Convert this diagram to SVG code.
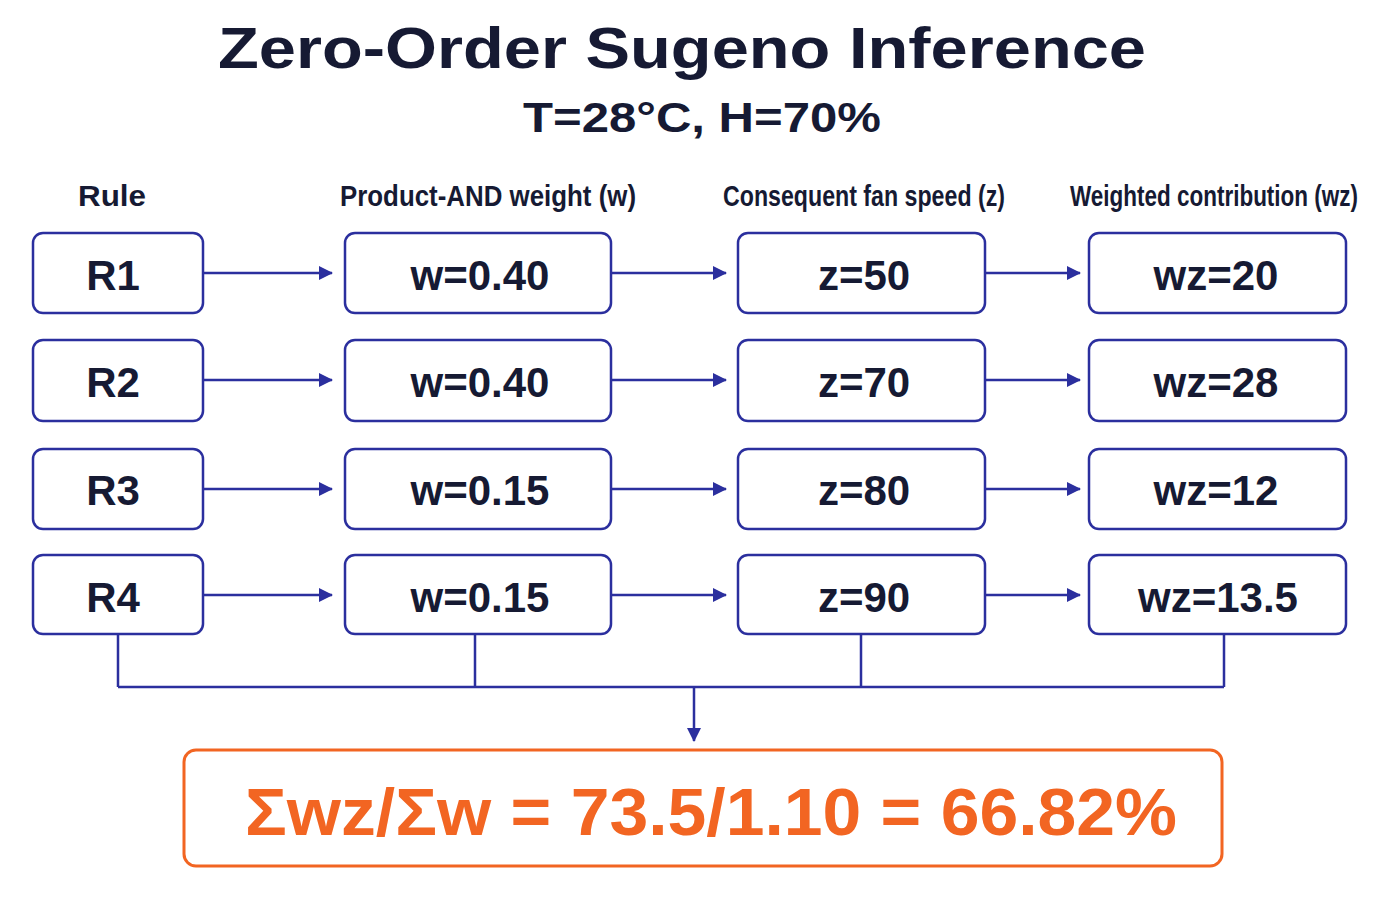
<svg xmlns="http://www.w3.org/2000/svg" width="1400" height="900" viewBox="0 0 1400 900">
<style>
.t{font-family:"Liberation Sans",Arial,sans-serif;fill:#161a33;text-anchor:middle}
.h{font-family:"Liberation Sans Narrow","Liberation Sans",Arial,sans-serif;fill:#161a33;text-anchor:middle;font-size:29px;font-weight:bold}
.box{fill:#fff;stroke:#2b2f9e;stroke-width:2.5}
.bt{font-family:"Liberation Sans",Arial,sans-serif;fill:#161a33;text-anchor:middle;font-size:42px;font-weight:bold}
.c{stroke:#2b2f9e;stroke-width:2.5;fill:none}
.ar{stroke:#2b2f9e;stroke-width:2.5;fill:none;marker-end:url(#b)}
</style>
<defs>
<marker id="b" markerWidth="14" markerHeight="14" refX="13" refY="7" orient="auto" markerUnits="userSpaceOnUse"><path d="M0,0 L14,7 L0,14 z" fill="#2b2f9e"/></marker></defs>
<rect width="1400" height="900" fill="#fff"/>
<text class="t" x="682" y="68" font-size="58" font-weight="bold" textLength="928" lengthAdjust="spacingAndGlyphs">Zero-Order Sugeno Inference</text>
<text class="t" x="702" y="132" font-size="42" font-weight="bold" textLength="358" lengthAdjust="spacingAndGlyphs">T=28°C, H=70%</text>
<text class="h" x="112" y="206" textLength="68" lengthAdjust="spacingAndGlyphs">Rule</text>
<text class="h" x="488" y="206" textLength="296" lengthAdjust="spacingAndGlyphs">Product-AND weight (w)</text>
<text class="h" x="864" y="206" textLength="282" lengthAdjust="spacingAndGlyphs">Consequent fan speed (z)</text>
<text class="h" x="1214" y="206" textLength="288" lengthAdjust="spacingAndGlyphs">Weighted contribution (wz)</text>
<g id="connectors">
<line class="ar" x1="204" y1="273" x2="332" y2="273"/><line class="ar" x1="612" y1="273" x2="726" y2="273"/><line class="ar" x1="986" y1="273" x2="1080" y2="273"/>
<line class="ar" x1="204" y1="380" x2="332" y2="380"/><line class="ar" x1="612" y1="380" x2="726" y2="380"/><line class="ar" x1="986" y1="380" x2="1080" y2="380"/>
<line class="ar" x1="204" y1="489" x2="332" y2="489"/><line class="ar" x1="612" y1="489" x2="726" y2="489"/><line class="ar" x1="986" y1="489" x2="1080" y2="489"/>
<line class="ar" x1="204" y1="595" x2="332" y2="595"/><line class="ar" x1="612" y1="595" x2="726" y2="595"/><line class="ar" x1="986" y1="595" x2="1080" y2="595"/>
<path class="c" d="M118,635 V687 M475,635 V687 M861,635 V687 M1224,635 V687 M118,687 H1224"/>
<line class="ar" x1="694" y1="687" x2="694" y2="741"/>
</g>
<g id="R1"><rect class="box" x="33" y="233" width="170" height="80" rx="10"/><text class="bt" x="113" y="290">R1</text></g>
<g id="R2"><rect class="box" x="33" y="340" width="170" height="81" rx="10"/><text class="bt" x="113" y="397">R2</text></g>
<g id="R3"><rect class="box" x="33" y="449" width="170" height="80" rx="10"/><text class="bt" x="113" y="505">R3</text></g>
<g id="R4"><rect class="box" x="33" y="555" width="170" height="79" rx="10"/><text class="bt" x="113" y="612">R4</text></g>
<g id="W1"><rect class="box" x="345" y="233" width="266" height="80" rx="10"/><text class="bt" x="480" y="290">w=0.40</text></g>
<g id="W2"><rect class="box" x="345" y="340" width="266" height="81" rx="10"/><text class="bt" x="480" y="397">w=0.40</text></g>
<g id="W3"><rect class="box" x="345" y="449" width="266" height="80" rx="10"/><text class="bt" x="480" y="505">w=0.15</text></g>
<g id="W4"><rect class="box" x="345" y="555" width="266" height="79" rx="10"/><text class="bt" x="480" y="612">w=0.15</text></g>
<g id="Z1"><rect class="box" x="738" y="233" width="247" height="80" rx="10"/><text class="bt" x="864" y="290">z=50</text></g>
<g id="Z2"><rect class="box" x="738" y="340" width="247" height="81" rx="10"/><text class="bt" x="864" y="397">z=70</text></g>
<g id="Z3"><rect class="box" x="738" y="449" width="247" height="80" rx="10"/><text class="bt" x="864" y="505">z=80</text></g>
<g id="Z4"><rect class="box" x="738" y="555" width="247" height="79" rx="10"/><text class="bt" x="864" y="612">z=90</text></g>
<g id="WZ1"><rect class="box" x="1089" y="233" width="257" height="80" rx="10"/><text class="bt" x="1216" y="290">wz=20</text></g>
<g id="WZ2"><rect class="box" x="1089" y="340" width="257" height="81" rx="10"/><text class="bt" x="1216" y="397">wz=28</text></g>
<g id="WZ3"><rect class="box" x="1089" y="449" width="257" height="80" rx="10"/><text class="bt" x="1216" y="505">wz=12</text></g>
<g id="WZ4"><rect class="box" x="1089" y="555" width="257" height="79" rx="10"/><text class="bt" x="1218" y="612">wz=13.5</text></g>
<g id="result"><rect x="184" y="750" width="1038" height="116" rx="12" fill="#fff" stroke="#f26522" stroke-width="3"/>
<text x="711" y="835" font-family="Liberation Sans,Arial,sans-serif" font-size="66" font-weight="bold" fill="#f26522" text-anchor="middle" textLength="932" lengthAdjust="spacingAndGlyphs">Σwz/Σw = 73.5/1.10 = 66.82%</text></g>
</svg>
